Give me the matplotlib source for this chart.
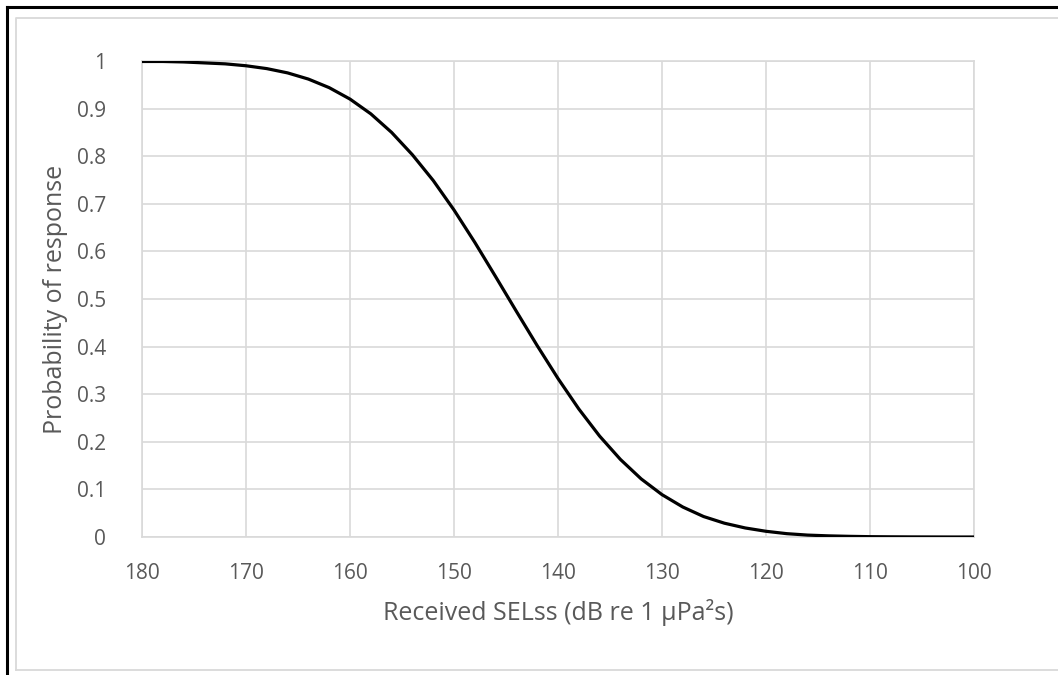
import matplotlib.pyplot as plt
from matplotlib.lines import Line2D

# Received level (dB re 1 uPa^2 s) and probability of response
sel = [180, 178, 176, 174, 172, 170, 168, 166, 164, 162, 160, 158, 156, 154,
       152, 150, 148, 146, 144, 142, 140, 138, 136, 134, 132, 130, 128, 126,
       124, 122, 120, 118, 116, 114, 112, 110, 108, 106, 104, 102, 100]
prob = [0.999, 0.999, 0.998, 0.996, 0.994, 0.990, 0.984, 0.975, 0.962, 0.944,
        0.920, 0.889, 0.850, 0.803, 0.749, 0.687, 0.619, 0.547, 0.474, 0.402,
        0.333, 0.269, 0.212, 0.163, 0.122, 0.089, 0.063, 0.043, 0.029, 0.019,
        0.012, 0.007, 0.004, 0.0024, 0.0014, 0.0007, 0.0004, 0.0002, 0.0001,
        0.0, 0.0]

x_ticks = [180, 170, 160, 150, 140, 130, 120, 110, 100]
y_ticks = [0, 0.1, 0.2, 0.3, 0.4, 0.5, 0.6, 0.7, 0.8, 0.9, 1]
y_labels = ['0', '0.1', '0.2', '0.3', '0.4', '0.5', '0.6', '0.7', '0.8', '0.9', '1']

plt.rcParams['font.family'] = ['Open Sans', 'DejaVu Sans']
text_col = '#595959'
grid_col = '#d9d9d9'

fig = plt.figure(figsize=(10.58, 6.75), dpi=100)
ax = fig.add_axes([142 / 1058, 1 - 537 / 675, (974 - 142) / 1058, (537 - 61) / 675])

ax.plot(sel, prob, color='black', lw=2.3, zorder=3)

ax.set_xlim(180, 100)
ax.set_ylim(0, 1)
ax.set_xticks(x_ticks)
ax.set_yticks(y_ticks)
ax.set_yticklabels(y_labels)
ax.grid(True, color=grid_col, lw=1.2)
ax.tick_params(length=0, labelsize=15, labelcolor=text_col)
ax.tick_params(axis='x', pad=18.5)
ax.tick_params(axis='y', pad=26)
for s in ax.spines.values():
    s.set_color(grid_col)
    s.set_linewidth(1.2)

ax.set_xlabel('Received SELss (dB re 1 µPa²s)', fontsize=18, color=text_col, labelpad=11)
ax.set_ylabel('Probability of response', fontsize=18, color=text_col, labelpad=6)

# outer frame: black at top/left, light grey chart border inside
fig.add_artist(Line2D([7 / 1058, 7 / 1058], [0, 1 - 7 / 675], color='black', lw=2.2))
fig.add_artist(Line2D([7 / 1058, 1], [1 - 7 / 675, 1 - 7 / 675], color='black', lw=2.2))
fig.add_artist(Line2D([16 / 1058, 16 / 1058, 1.01], [1 - 670 / 675, 1 - 18 / 675, 1 - 18 / 675],
                      color=grid_col, lw=1.3))
fig.add_artist(Line2D([16 / 1058, 1.01], [1 - 670 / 675, 1 - 670 / 675], color=grid_col, lw=1.3))

fig.savefig('out.png', dpi=100)
